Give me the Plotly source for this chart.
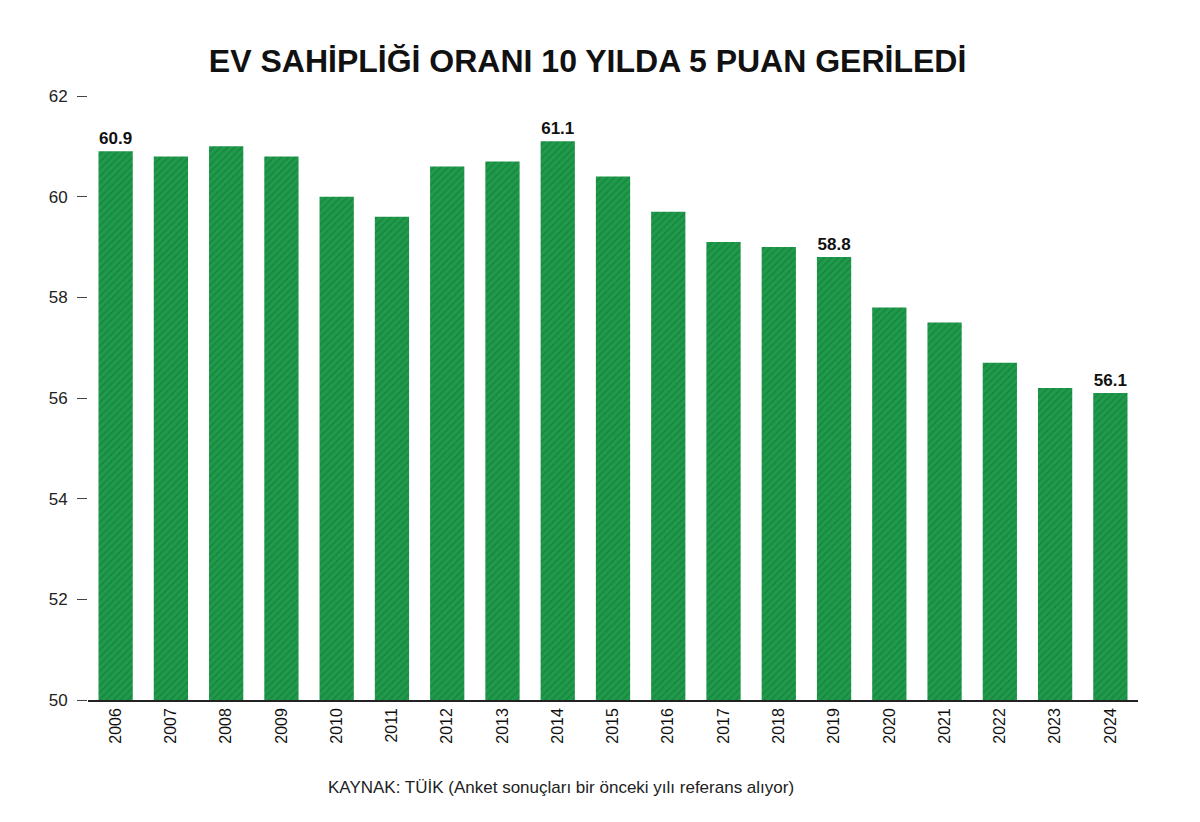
import plotly.graph_objects as go

years = [str(y) for y in range(2006, 2025)]
values = [60.9, 60.8, 61.0, 60.8, 60.0, 59.6, 60.6, 60.7, 61.1, 60.4, 59.7, 59.1, 59.0, 58.8, 57.8, 57.5, 56.7, 56.2, 56.1]
labeled = {"2006", "2014", "2019", "2024"}
labels = [f"<b>{v:.1f}</b>" if y in labeled else "" for y, v in zip(years, values)]

fig = go.Figure(go.Bar(
    x=years, y=values,
    marker=dict(color="#1f9a4b", line=dict(width=0),
                pattern=dict(shape="/", fgcolor="#136f33", size=5, solidity=0.3)),
    width=0.62,
    text=labels, textposition="outside", cliponaxis=False,
    textfont=dict(family="Liberation Sans, Arial", size=17, color="#111"),
))
fig.update_layout(
    width=1200, height=822, paper_bgcolor="white", plot_bgcolor="white",
    margin=dict(l=80, r=70, t=88, b=130),
    title=dict(text="<b>EV SAHİPLİĞİ ORANI 10 YILDA 5 PUAN GERİLEDİ</b>", x=0.483, xanchor="center", y=0.95,
               font=dict(family="Liberation Sans, Arial", size=32, color="#111")),
    showlegend=False,
    font=dict(family="Liberation Sans, Arial", color="#222"),
)
fig.update_yaxes(range=[50, 62], dtick=2, showgrid=False, zeroline=False, ticks="outside",
                 ticklen=10, tickcolor="#444", ticklabelstandoff=6, tickfont=dict(size=17), showline=False)
fig.update_xaxes(showline=True, linecolor="#222", linewidth=1.5, tickangle=-90, ticks="",
                 tickfont=dict(size=16, color="#111"))
fig.add_annotation(text="KAYNAK: TÜİK (Anket sonuçları bir önceki yılı referans alıyor)",
                   xref="paper", yref="paper", x=0.45, y=-0.145, showarrow=False, xanchor="center",
                   yanchor="middle", font=dict(size=17, color="#222"))
fig.write_html("out.html")
